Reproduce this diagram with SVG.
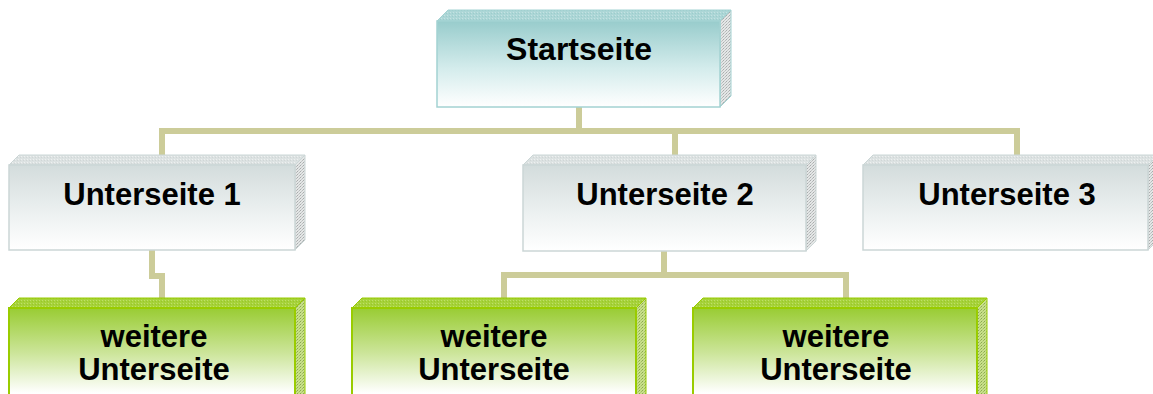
<svg xmlns="http://www.w3.org/2000/svg" width="1153" height="394" viewBox="0 0 1153 394">
<style>
.lbl{font-family:"Liberation Sans",Arial,sans-serif;font-weight:bold;font-size:31px;fill:#000;text-anchor:middle}
.conn{fill:none;stroke:#cccc99;stroke-width:6;stroke-linejoin:miter}
.fT{stroke:#a3d2d2;stroke-width:1.5}
.fG{stroke:#cbd6d6;stroke-width:1.5}
.fL{stroke:#99cc00;stroke-width:2}
</style>
<defs>
<linearGradient id="gT" x1="0" y1="0" x2="0" y2="1">
<stop offset="0" stop-color="#98cccc"/>
<stop offset="0.55" stop-color="#d4ecec"/>
<stop offset="1" stop-color="#ffffff"/>
</linearGradient>
<linearGradient id="gG" x1="0" y1="0" x2="0" y2="1">
<stop offset="0" stop-color="#d3dcdc"/>
<stop offset="0.6" stop-color="#eef2f2"/>
<stop offset="1" stop-color="#ffffff"/>
</linearGradient>
<linearGradient id="gL" x1="0" y1="0" x2="0" y2="1">
<stop offset="0" stop-color="#99cc33"/>
<stop offset="0.45" stop-color="#cce59a"/>
<stop offset="0.85" stop-color="#ffffff"/>
<stop offset="1" stop-color="#ffffff"/>
</linearGradient>
<pattern id="pSide" width="3" height="3" patternUnits="userSpaceOnUse">
<rect width="3" height="3" fill="#e4e6e6"/>
<rect width="1" height="1" fill="#a8acac"/>
<rect x="2" y="1" width="1" height="1" fill="#b8bcbc"/>
<rect x="1" y="2" width="1" height="1" fill="#c4c8c8"/>
</pattern>
<pattern id="pTopT" width="3" height="3" patternUnits="userSpaceOnUse">
<rect width="3" height="3" fill="#acd6d6"/>
<rect width="1" height="1" fill="#c4e2e2"/>
<rect x="2" y="1" width="1" height="1" fill="#9ccccc"/>
</pattern>
<pattern id="pTopG" width="3" height="3" patternUnits="userSpaceOnUse">
<rect width="3" height="3" fill="#dce2e2"/>
<rect width="1" height="1" fill="#eef0f0"/>
<rect x="2" y="1" width="1" height="1" fill="#d0d6d6"/>
</pattern>
<pattern id="pTopL" width="3" height="3" patternUnits="userSpaceOnUse">
<rect width="3" height="3" fill="#a6d23a"/>
<rect width="1" height="1" fill="#bfe06a"/>
<rect x="2" y="1" width="1" height="1" fill="#99c62a"/>
</pattern>
<pattern id="pSideL" width="3" height="3" patternUnits="userSpaceOnUse">
<rect width="3" height="3" fill="#c8e08a"/>
<rect width="1" height="1" fill="#8aa850"/>
<rect x="2" y="1" width="1" height="1" fill="#a0bc60"/>
<rect x="1" y="2" width="1" height="1" fill="#b4cc78"/>
</pattern>
</defs>

<g id="connectors">
<polyline class="conn" points="579,107 579,131"/>
<polyline class="conn" points="162,155 162,131 1017,131 1017,155"/>
<polyline class="conn" points="675,131 675,155"/>
<polyline class="conn" points="152,250 152,276 162,276 162,299"/>
<polyline class="conn" points="664,251 664,275"/>
<polyline class="conn" points="504,299 504,275 846,275 846,299"/>
</g>

<g id="startseite">
<polygon points="437,21 448,10 731,10 720,21" fill="url(#pTopT)" stroke="#a3d2d2" stroke-width="1"/>
<polygon points="720,21 731,10 731,96 720,107" fill="url(#pSide)" stroke="#a3d2d2" stroke-width="1"/>
<rect class="fT" x="437" y="21" width="283" height="86" fill="url(#gT)"/>
<text class="lbl" x="579" y="60" style="font-size:32px">Startseite</text>
</g>

<g id="unterseite1">
<polygon points="9,165 19,155 305,155 295,165" fill="url(#pTopG)" stroke="#cbd6d6" stroke-width="1"/>
<polygon points="295,165 305,155 305,240 295,250" fill="url(#pSide)" stroke="#cbd6d6" stroke-width="1"/>
<rect class="fG" x="9" y="165" width="286" height="85" fill="url(#gG)"/>
<text class="lbl" x="152" y="205">Unterseite 1</text>
</g>

<g id="unterseite2">
<polygon points="523,165 533,155 816,155 806,165" fill="url(#pTopG)" stroke="#cbd6d6" stroke-width="1"/>
<polygon points="806,165 816,155 816,241 806,251" fill="url(#pSide)" stroke="#cbd6d6" stroke-width="1"/>
<rect class="fG" x="523" y="165" width="283" height="86" fill="url(#gG)"/>
<text class="lbl" x="665" y="205">Unterseite 2</text>
</g>

<g id="unterseite3">
<polygon points="863,165 873,155 1158,155 1148,165" fill="url(#pTopG)" stroke="#cbd6d6" stroke-width="1"/>
<polygon points="1148,165 1158,155 1158,240 1148,250" fill="url(#pSide)" stroke="#cbd6d6" stroke-width="1"/>
<rect class="fG" x="863" y="165" width="285" height="85" fill="url(#gG)"/>
<text class="lbl" x="1007" y="205">Unterseite 3</text>
</g>

<g id="weitere1">
<polygon points="9,308 19,298 305,298 295,308" fill="url(#pTopL)" stroke="#99cc00" stroke-width="1"/>
<polygon points="295,308 305,298 305,400 295,410" fill="url(#pSideL)" stroke="#99cc00" stroke-width="1"/>
<rect class="fL" x="9" y="308" width="286" height="100" fill="url(#gL)"/>
<text class="lbl" x="154" y="347">weitere</text>
<text class="lbl" x="154" y="380">Unterseite</text>
</g>

<g id="weitere2">
<polygon points="352,308 362,298 646,298 636,308" fill="url(#pTopL)" stroke="#99cc00" stroke-width="1"/>
<polygon points="636,308 646,298 646,400 636,410" fill="url(#pSideL)" stroke="#99cc00" stroke-width="1"/>
<rect class="fL" x="352" y="308" width="284" height="100" fill="url(#gL)"/>
<text class="lbl" x="494" y="347">weitere</text>
<text class="lbl" x="494" y="380">Unterseite</text>
</g>

<g id="weitere3">
<polygon points="693,308 703,298 987,298 977,308" fill="url(#pTopL)" stroke="#99cc00" stroke-width="1"/>
<polygon points="977,308 987,298 987,400 977,410" fill="url(#pSideL)" stroke="#99cc00" stroke-width="1"/>
<rect class="fL" x="693" y="308" width="284" height="100" fill="url(#gL)"/>
<text class="lbl" x="836" y="347">weitere</text>
<text class="lbl" x="836" y="380">Unterseite</text>
</g>
</svg>
